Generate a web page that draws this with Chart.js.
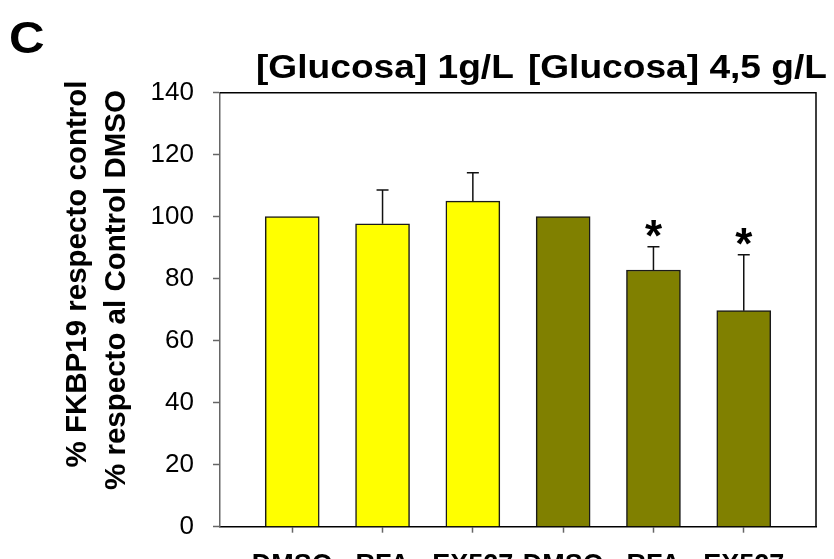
<!DOCTYPE html>
<html>
<head>
<meta charset="utf-8">
<script src="https://cdn.jsdelivr.net/npm/chart.js@4/dist/chart.umd.min.js"></script>
<style>
  html, body { margin: 0; padding: 0; width: 834px; height: 559px; overflow: hidden; background: #fff; }
  #wrap { position: relative; width: 834px; height: 600px; }
</style>
</head>
<body>
<div id="wrap"><canvas id="chart" width="834" height="600"></canvas></div>
<script>
// FKBP19 expression relative to the DMSO control, two glucose concentrations
const categories = ['DMSO', 'RFA', 'EX527', 'DMSO', 'RFA', 'EX527'];
const means = [100, 97.7, 105.0, 100, 82.8, 69.7];
const errors = [0, 10.9, 9.2, 0, 7.5, 18.0];
const barColors = ['#ffff00', '#ffff00', '#ffff00', '#808000', '#808000', '#808000'];
const significance = ['', '', '', '', '*', '*'];
const yTicks = [0, 20, 40, 60, 80, 100, 120, 140];
const groupTitles = ['[Glucosa] 1g/L', '[Glucosa] 4,5 g/L'];
const yTitleLines = ['% FKBP19 respecto control', '% respecto al Control DMSO'];
const panelLetter = 'C';

const FONT = 'Arial, "Liberation Sans", Helvetica, sans-serif';

// draws text slightly widened horizontally (condensed-heavy look of the labels)
function wideText(ctx, text, x, y, sx, align) {
  ctx.save();
  ctx.translate(x, y);
  ctx.scale(sx, 1);
  ctx.textAlign = align;
  ctx.fillText(text, 0, 0);
  ctx.restore();
}

// error bars (upper whisker only) and significance stars
const errorBarPlugin = {
  id: 'errorBars',
  afterDatasetsDraw(chart) {
    const ctx = chart.ctx;
    const xs = chart.scales.x, ys = chart.scales.y;
    ctx.save();
    categories.forEach((c, i) => {
      const x = xs.getPixelForValue(i);
      const yTop = ys.getPixelForValue(means[i] + errors[i]);
      if (errors[i] > 0) {
        const yBar = ys.getPixelForValue(means[i]);
        ctx.strokeStyle = '#111';
        ctx.lineWidth = 1.5;
        ctx.beginPath();
        ctx.moveTo(x, yBar);
        ctx.lineTo(x, yTop);
        ctx.moveTo(x - 6, yTop);
        ctx.lineTo(x + 6, yTop);
        ctx.stroke();
      }
      if (significance[i]) {
        ctx.fillStyle = '#000';
        ctx.font = 'bold 44px ' + FONT;
        ctx.textAlign = 'center';
        ctx.textBaseline = 'alphabetic';
        ctx.fillText(significance[i], x, yTop + 4);
      }
    });
    ctx.restore();
  }
};

// frame lines, panel letter, group titles and the two-line y title
const decorPlugin = {
  id: 'decor',
  afterDraw(chart) {
    const ctx = chart.ctx;
    const a = chart.chartArea;
    ctx.save();
    ctx.strokeStyle = '#000';
    ctx.lineWidth = 1.5;
    ctx.beginPath();
    ctx.moveTo(a.left, a.top);
    ctx.lineTo(a.right, a.top);
    ctx.lineTo(a.right, a.bottom);
    ctx.stroke();

    ctx.fillStyle = '#000';
    ctx.textBaseline = 'alphabetic';
    ctx.font = 'bold 44px ' + FONT;
    wideText(ctx, panelLetter, 9, 53, 1.12, 'left');

    ctx.font = 'bold 33px ' + FONT;
    wideText(ctx, groupTitles[0], 256, 78, 1.125, 'left');
    wideText(ctx, groupTitles[1], 827, 78, 1.125, 'right');

    ctx.font = 'bold 29.5px ' + FONT;
    ctx.textAlign = 'center';
    ctx.textBaseline = 'middle';
    const centers = [[78, 274], [117, 290]];
    yTitleLines.forEach((t, k) => {
      ctx.save();
      ctx.translate(centers[k][0], centers[k][1]);
      ctx.rotate(-Math.PI / 2);
      ctx.fillText(t, 0, 0);
      ctx.restore();
    });
    ctx.restore();
  }
};

new Chart(document.getElementById('chart'), {
  type: 'bar',
  data: {
    datasets: [{
      data: categories.map((c, i) => ({ x: i, y: means[i] })),
      backgroundColor: barColors,
      borderColor: '#1a1a1a',
      borderWidth: 1.5,
      barThickness: 54
    }]
  },
  options: {
    responsive: false,
    animation: false,
    devicePixelRatio: 1,
    layout: { padding: { left: 0, right: 18, top: 92.7, bottom: 0 } },
    plugins: { legend: { display: false }, tooltip: { enabled: false }, title: { display: false } },
    scales: {
      x: {
        type: 'linear',
        min: -0.8,
        max: 5.8,
        offset: false,
        afterBuildTicks: s => { s.ticks = categories.map((c, i) => ({ value: i })); },
        afterFit: s => { s.height = 73.3; },
        ticks: {
          autoSkip: false,
          maxRotation: 0,
          padding: 17,
          color: '#000',
          font: { family: FONT, size: 27, weight: 'bold' },
          callback: (v, i) => categories[i]
        },
        grid: { display: true, offset: false, drawOnChartArea: false, drawTicks: true, tickLength: 6, tickColor: '#666', tickWidth: 1.5 },
        border: { display: true, color: '#000', width: 1.5 }
      },
      y: {
        min: 0,
        max: 140,
        afterBuildTicks: s => { s.ticks = yTicks.map(v => ({ value: v })); },
        afterFit: s => { s.width = 220; },
        ticks: {
          padding: 19,
          color: '#000',
          font: { family: FONT, size: 26 }
        },
        grid: { display: true, drawOnChartArea: false, drawTicks: true, tickLength: 7, tickColor: '#666', tickWidth: 1.5 },
        border: { display: true, color: '#666', width: 1.5 }
      }
    }
  },
  plugins: [errorBarPlugin, decorPlugin]
});
</script>
</body>
</html>
